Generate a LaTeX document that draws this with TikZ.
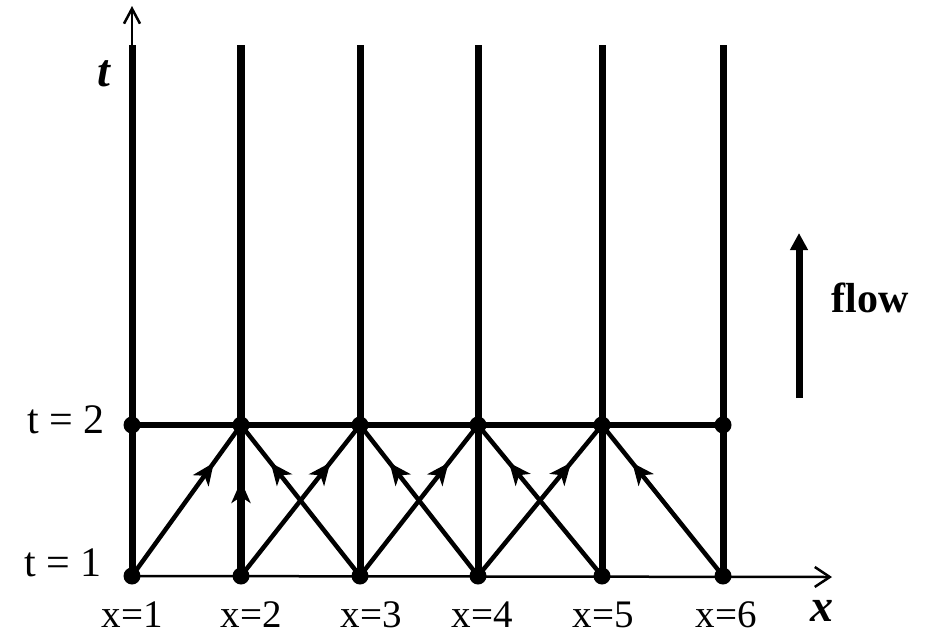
\documentclass[tikz,border=0pt]{standalone}
\usepackage{fontspec}
\setmainfont{Liberation Serif}
\usetikzlibrary{arrows.meta,decorations.markings}

\tikzset{
  dot/.style={circle,fill,inner sep=0pt,minimum size=17pt},
  gridline/.style={line width=7pt},
  upflow/.style={postaction={decorate},
    decoration={markings,mark=at position #1 with {\arrow{Stealth[length=22pt,width=19pt,inset=6pt]}}}},
  cross/.style={line width=4.5pt,upflow=.75},
  xlab/.style={font=\fontsize{39}{42}\selectfont},
  tlab/.style={font=\fontsize{42}{46}\selectfont},
  axlab/.style={font=\fontsize{46}{50}\selectfont\bfseries\itshape,inner sep=0pt},
}

\begin{document}
\begin{tikzpicture}[x=1pt,y=-1pt]
  \useasboundingbox (0,0) rectangle (926,638);

  % grid points, t = 1 and t = 2
  \node[dot] (a1) at (132,576) {};
  \node[dot] (a2) at (241,576) {};
  \node[dot] (a3) at (360,576) {};
  \node[dot] (a4) at (478,576) {};
  \node[dot] (a5) at (602,576) {};
  \node[dot] (a6) at (723,576) {};
  \node[dot] (b1) at (132,425) {};
  \node[dot] (b2) at (241,425) {};
  \node[dot] (b3) at (360,425) {};
  \node[dot] (b4) at (478,425) {};
  \node[dot] (b5) at (602,425) {};
  \node[dot] (b6) at (723,425) {};

  \coordinate (c1) at (132,45);
  \coordinate (c2) at (241,45);
  \coordinate (c3) at (360,45);
  \coordinate (c4) at (478,45);
  \coordinate (c5) at (602,45);
  \coordinate (c6) at (723,45);
  \coordinate (tend) at (132,6);
  \coordinate (xend) at (832,577);

  % axes
  \draw[line width=2.5pt,-{Straight Barb[length=15pt,width=20pt]}] (a1.center) -- (xend);
  \draw[line width=2.5pt,-{Straight Barb[length=15pt,width=16pt]}] (c1) -- (tend);

  % columns and t = 2 row
  \draw[gridline] (a1.center) -- (c1);
  \draw[gridline,line width=8pt,upflow=.63] (a2.center) -- (b2.center);
  \draw[gridline,line width=8pt] (b2.center) -- (c2);
  \draw[gridline] (a3.center) -- (c3);
  \draw[gridline] (a4.center) -- (c4);
  \draw[gridline] (a5.center) -- (c5);
  \draw[gridline] (a6.center) -- (c6);
  \draw[line width=6pt] (b1.center) -- (b6.center);

  % crossing paths
  \draw[cross] (a1.center) -- (b2.center);
  \draw[cross] (a2.center) -- (b3.center);
  \draw[cross] (a3.center) -- (b4.center);
  \draw[cross] (a4.center) -- (b5.center);
  \draw[cross] (a3.center) -- (b2.center);
  \draw[cross] (a4.center) -- (b3.center);
  \draw[cross] (a5.center) -- (b4.center);
  \draw[cross] (a6.center) -- (b5.center);

  % labels
  \node[tlab] (t2) at (66,420) {t = 2};
  \node[tlab] (t1) at (63,563) {t = 1};
  \node[xlab] (x1) at (132,615) {x=1};
  \node[xlab] (x2) at (251,615) {x=2};
  \node[xlab] (x3) at (371,615) {x=3};
  \node[xlab] (x4) at (482,615) {x=4};
  \node[xlab] (x5) at (603,615) {x=5};
  \node[xlab] (x6) at (726,615) {x=6};
  \node[axlab] (tax) at (104,74) {t};
  \node[axlab] (xax) at (822,611) {x};

  % flow direction
  \coordinate (f0) at (799,398);
  \coordinate (f1) at (799,233);
  \draw[line width=7pt,-{Triangle[length=17pt,width=17pt]}] (f0) -- (f1);
  \node[font=\fontsize{42}{46}\selectfont\bfseries] (flow) at (870,298) {flow};
\end{tikzpicture}
\end{document}
